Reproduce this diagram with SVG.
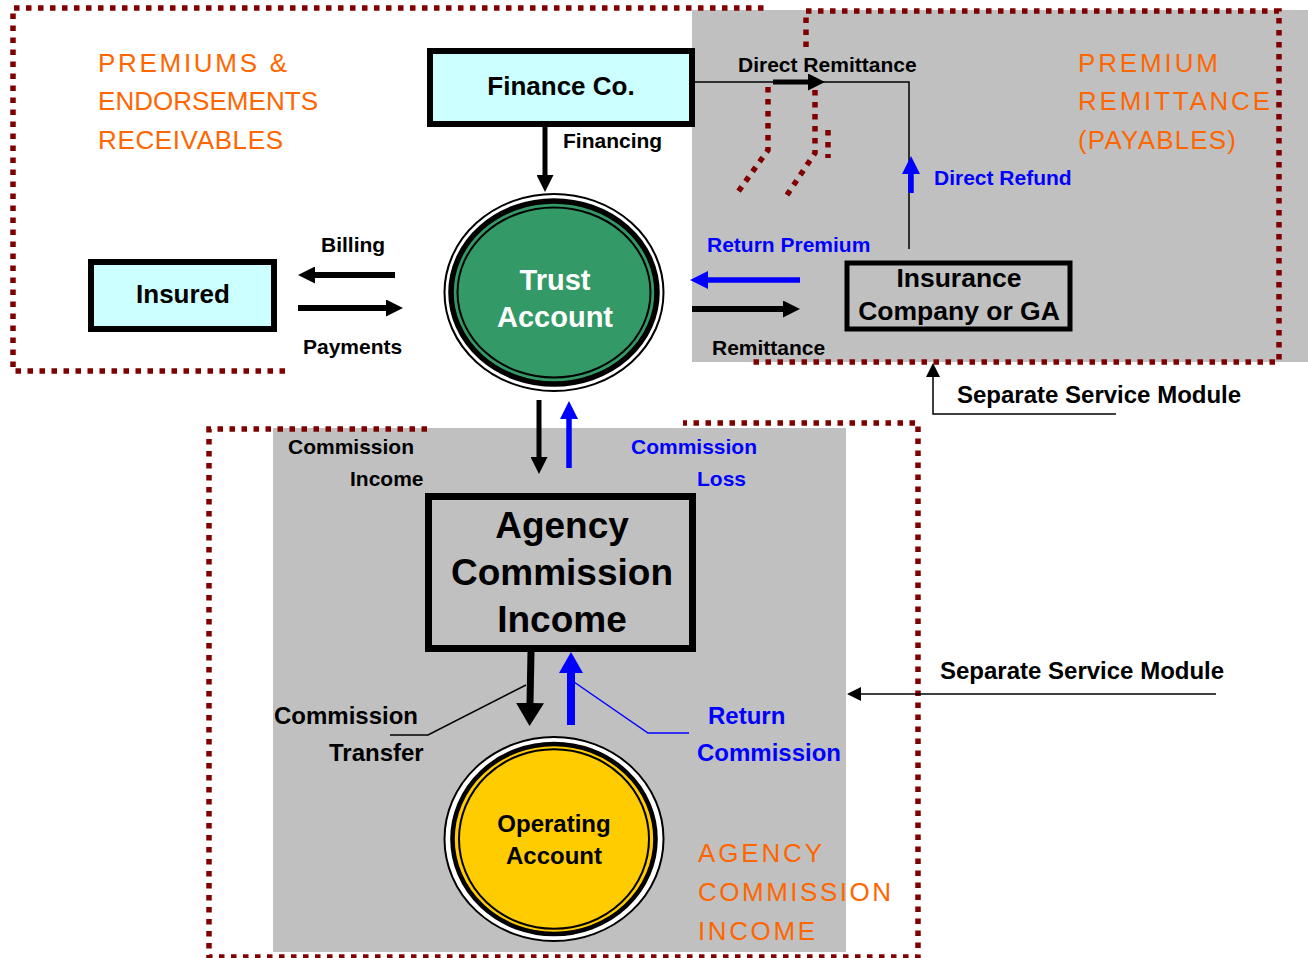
<svg xmlns="http://www.w3.org/2000/svg" width="1308" height="958" viewBox="0 0 1308 958">
<style>
.bg{fill:#C0C0C0}
.dot{fill:none;stroke:#800000;stroke-width:5.5;stroke-dasharray:5.5 6.5}
.box{stroke:#000}
.lbl{font-family:"Liberation Sans",Arial,sans-serif;font-weight:bold;font-size:21px;fill:#000}
.blue{fill:#0000FF}
.white{fill:#fff}
.area{font-family:"Liberation Sans",Arial,sans-serif;font-size:26px;fill:#FF6600}
.mid{text-anchor:middle}
.thk{fill:none;stroke:#000}
.thkb{fill:none;stroke:#0000FF}
.thin{fill:none}
</style>
<defs>
<marker id="hk" markerUnits="userSpaceOnUse" viewBox="0 0 17 17" markerWidth="17" markerHeight="17" refX="0" refY="8.5" orient="auto"><path d="M0,0 L17,8.5 L0,17 z" fill="#000"/></marker>
<marker id="hb" markerUnits="userSpaceOnUse" viewBox="0 0 18 18" markerWidth="18" markerHeight="18" refX="0" refY="9" orient="auto"><path d="M0,0 L18,9 L0,18 z" fill="#0000FF"/></marker>
<marker id="hkL" markerUnits="userSpaceOnUse" viewBox="0 0 23 28" markerWidth="23" markerHeight="28" refX="0" refY="14" orient="auto"><path d="M0,0 L23,14 L0,28 z" fill="#000"/></marker>
<marker id="hbL" markerUnits="userSpaceOnUse" viewBox="0 0 21 24" markerWidth="21" markerHeight="24" refX="0" refY="12" orient="auto"><path d="M0,0 L21,12 L0,24 z" fill="#0000FF"/></marker>
<marker id="hs" markerUnits="userSpaceOnUse" viewBox="0 0 14 14" markerWidth="14" markerHeight="14" refX="0" refY="7" orient="auto"><path d="M0,0 L14,7 L0,14 z" fill="#000"/></marker>
</defs>
<rect width="1308" height="958" fill="#fff"/>
<g id="regions">
<rect class="bg" x="692" y="10" width="616" height="352"/>
<rect class="bg" x="273" y="428" width="573" height="524"/>
<path class="dot" d="M285,371 L13,371 L13,8 L766,8"/>
<path class="dot" d="M806,47 L806,11 L1279,11 L1279,362 L753,362"/>
<path class="dot" d="M427,429 L209,429 L209,957 L918,957 L918,423 L683,423"/>
<path class="dot" d="M768,87 L768,150 L735,196"/>
<path class="dot" d="M815,90 L815,153 L785,198"/>
<path class="dot" d="M828,130 L828,158"/>
<text class="area" x="98" y="72" textLength="189">PREMIUMS &amp;</text>
<text class="area" x="98" y="110" textLength="220">ENDORSEMENTS</text>
<text class="area" x="98" y="149" textLength="185">RECEIVABLES</text>
<text class="area" x="1078" y="72" textLength="140">PREMIUM</text>
<text class="area" x="1078" y="110" textLength="192">REMITTANCE</text>
<text class="area" x="1078" y="149" textLength="158">(PAYABLES)</text>
<text class="area" x="698" y="862" textLength="124">AGENCY</text>
<text class="area" x="698" y="901" textLength="193">COMMISSION</text>
<text class="area" x="698" y="940" textLength="117">INCOME</text>
</g>
<g id="connectors">
<path class="thin" style="stroke:#000;stroke-width:1.5" d="M695,82 L909,82 L909,249"/>
<path class="thk" style="stroke-width:5" d="M773,82 L808,82" marker-end="url(#hk)"/>
<path class="thk" style="stroke-width:5" d="M545,127 L545,175" marker-end="url(#hk)"/>
<path class="thk" style="stroke-width:6" d="M395,275 L315,275" marker-end="url(#hk)"/>
<path class="thk" style="stroke-width:6" d="M298,308 L386,308" marker-end="url(#hk)"/>
<path class="thkb" style="stroke-width:5.5" d="M800,280 L708,280" marker-end="url(#hb)"/>
<path class="thk" style="stroke-width:6" d="M692,309 L783,309" marker-end="url(#hk)"/>
<path class="thkb" style="stroke-width:5.5" d="M911,193 L911,174" marker-end="url(#hb)"/>
<path class="thk" style="stroke-width:5" d="M539,400 L539,457" marker-end="url(#hk)"/>
<path class="thkb" style="stroke-width:5.5" d="M569,468 L569,419" marker-end="url(#hb)"/>
<path class="thk" style="stroke-width:7" d="M531,652 L530,703" marker-end="url(#hkL)"/>
<path class="thkb" style="stroke-width:8" d="M571,725 L571,673" marker-end="url(#hbL)"/>
<path class="thin" style="stroke:#000;stroke-width:1.5" d="M526,685 L428,735 L390,735"/>
<path class="thin" style="stroke:#0000FF;stroke-width:1.5" d="M574,682 L648,733 L689,733"/>
<path class="thin" style="stroke:#000;stroke-width:1.5" d="M1116,414 L933,414 L933,377" marker-end="url(#hs)"/>
<path class="thin" style="stroke:#000;stroke-width:1.5" d="M1216,694 L861,694" marker-end="url(#hs)"/>
</g>
<g id="finance">
<rect class="box" style="stroke-width:6" x="430" y="51" width="262" height="73" fill="#CCFFFF"/>
<text class="lbl mid" style="font-size:26px" x="561" y="95">Finance Co.</text>
</g>
<g id="insured">
<rect class="box" style="stroke-width:6" x="91" y="262" width="183" height="67" fill="#CCFFFF"/>
<text class="lbl mid" style="font-size:26px" x="183" y="303">Insured</text>
</g>
<g id="trust">
<ellipse cx="554" cy="292.5" rx="109.5" ry="98.5" fill="#fff" stroke="#000" stroke-width="2"/>
<ellipse cx="554" cy="292.5" rx="103" ry="91.5" fill="#339966" stroke="#000" stroke-width="5.5"/>
<ellipse cx="554" cy="292.5" rx="96.5" ry="85" fill="none" stroke="#000" stroke-width="2"/>
<text class="lbl mid white" style="font-size:29px" x="555" y="290">Trust</text>
<text class="lbl mid white" style="font-size:29px" x="555" y="327">Account</text>
</g>
<g id="insurer">
<rect class="box" style="stroke-width:5" x="847" y="263" width="223" height="66" fill="none"/>
<text class="lbl mid" style="font-size:26.5px" x="959" y="287">Insurance</text>
<text class="lbl mid" style="font-size:26.5px" x="959" y="320">Company or GA</text>
</g>
<g id="agency">
<rect class="box" style="stroke-width:7" x="428.5" y="496.5" width="264" height="152" fill="none"/>
<text class="lbl mid" style="font-size:37px" x="562" y="538">Agency</text>
<text class="lbl mid" style="font-size:37px" x="562" y="585">Commission</text>
<text class="lbl mid" style="font-size:37px" x="562" y="632">Income</text>
</g>
<g id="operating">
<ellipse cx="554" cy="839" rx="109.5" ry="102" fill="#fff" stroke="#000" stroke-width="2"/>
<ellipse cx="554" cy="839" rx="101.5" ry="95" fill="#FFCC00" stroke="#000" stroke-width="4.6"/>
<ellipse cx="554" cy="839" rx="95" ry="89.8" fill="none" stroke="#000" stroke-width="2"/>
<text class="lbl mid" style="font-size:24px" x="554" y="832">Operating</text>
<text class="lbl mid" style="font-size:24px" x="554" y="864">Account</text>
</g>
<g id="labels">
<text class="lbl" x="321" y="252">Billing</text>
<text class="lbl" x="303" y="354">Payments</text>
<text class="lbl" x="563" y="148">Financing</text>
<text class="lbl" x="738" y="72">Direct Remittance</text>
<text class="lbl blue" x="934" y="185">Direct Refund</text>
<text class="lbl blue" x="707" y="252">Return Premium</text>
<text class="lbl" x="712" y="355">Remittance</text>
<text class="lbl" style="font-size:24px" x="957" y="403">Separate Service Module</text>
<text class="lbl" style="font-size:24px" x="940" y="679">Separate Service Module</text>
<text class="lbl" x="288" y="454">Commission</text>
<text class="lbl" x="350" y="486">Income</text>
<text class="lbl blue" x="631" y="454">Commission</text>
<text class="lbl blue" x="697" y="486">Loss</text>
<text class="lbl" style="font-size:24px" x="274" y="724">Commission</text>
<text class="lbl" style="font-size:24px" x="329" y="761">Transfer</text>
<text class="lbl blue" style="font-size:24px" x="708" y="724">Return</text>
<text class="lbl blue" style="font-size:24px" x="697" y="761">Commission</text>
</g>
</svg>
